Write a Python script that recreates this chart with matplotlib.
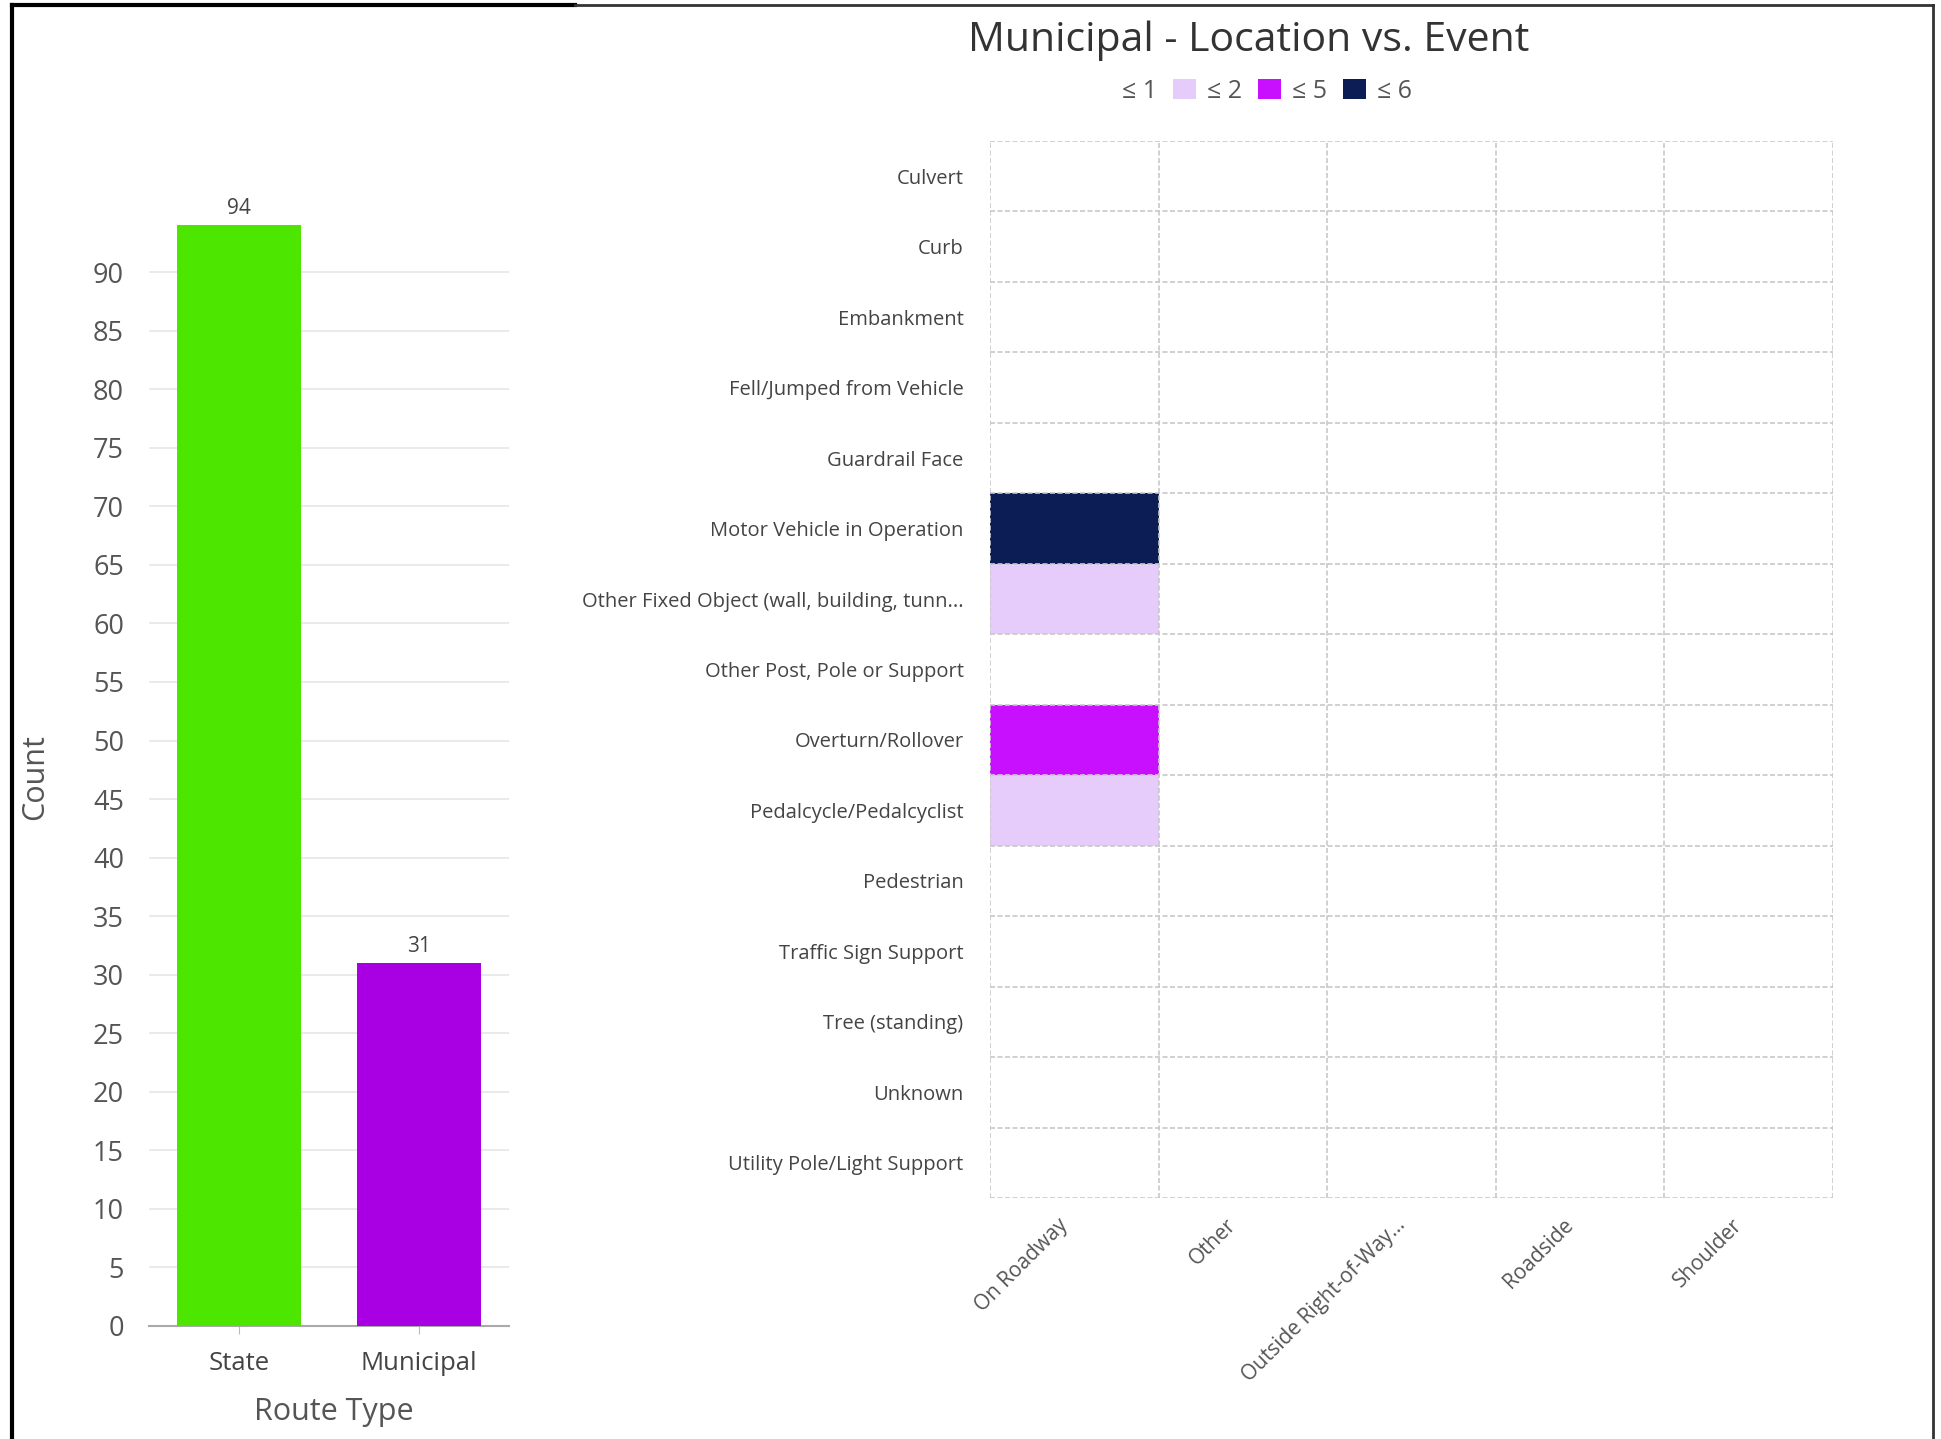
import matplotlib
matplotlib.use("Agg")
import matplotlib.pyplot as plt
import numpy as np
from matplotlib.colors import ListedColormap, BoundaryNorm
from matplotlib.patches import Patch
from matplotlib.lines import Line2D
from matplotlib.transforms import ScaledTranslation

plt.rcParams['font.family'] = ['Open Sans', 'DejaVu Sans']

# ---- Data ----
route_types = ["State", "Municipal"]
route_counts = [94, 31]
route_colors = ["#4DE600", "#A800E3"]

events = ["Culvert", "Curb", "Embankment", "Fell/Jumped from Vehicle", "Guardrail Face",
          "Motor Vehicle in Operation", "Other Fixed Object (wall, building, tunn...",
          "Other Post, Pole or Support", "Overturn/Rollover", "Pedalcycle/Pedalcyclist",
          "Pedestrian", "Traffic Sign Support", "Tree (standing)", "Unknown",
          "Utility Pole/Light Support"]
locations = ["On Roadway", "Other", "Outside Right-of-Way...", "Roadside", "Shoulder"]
# values per event (rows) x location (cols)
on_roadway = [0, 0, 0, 0, 0, 6, 2, 0, 5, 2, 0, 0, 0, 0, 0]
other = [0] * 15
outside_row = [0] * 15
roadside = [0] * 15
shoulder = [0] * 15
legend_labels = ["≤ 1", "≤ 2", "≤ 5", "≤ 6"]
bin_edges = [-0.5, 1.5, 2.5, 5.5, 6.5]
bin_colors = ["#FFFFFF", "#E6CCFA", "#C810FF", "#0C1C55"]

W, H = 1941, 1439
fig = plt.figure(figsize=(W / 100, H / 100), dpi=100)

# ---- Bar chart ----
ax1 = fig.add_axes([149 / W, 1 - 1326 / H, 360 / W, 1171 / H])
x = np.arange(len(route_types))
ax1.bar(x, route_counts, width=0.69, color=route_colors, zorder=3)
for xi, v in zip(x, route_counts):
    ax1.text(xi, v + 0.5, str(v), ha='center', va='bottom', fontsize=15, color='#444444')
ax1.set_xlim(-0.5, 1.5)
ax1.set_ylim(0, 100)
ax1.set_yticks(np.arange(0, 95, 5))
ax1.set_xticks(x)
ax1.set_xticklabels(route_types, fontsize=18.5, color='#444444')
ax1.tick_params(axis='y', length=0, pad=18, labelsize=19.5, labelcolor='#555555')
ax1.tick_params(axis='x', length=6, color='#bbbbbb', pad=12)
ax1.grid(axis='y', color='#e8e8e8', linewidth=1.3, zorder=0)
for s in ['top', 'right', 'left']:
    ax1.spines[s].set_visible(False)
ax1.spines['bottom'].set_color('#aaaaaa')
ax1.spines['bottom'].set_linewidth(1.5)
ax1.set_xlabel("Route Type", fontsize=22, color='#555555', labelpad=15)
ax1.xaxis.label.set_x(0.514)
fig.text(35 / W, 1 - 777 / H, "Count", rotation=90, fontsize=22, color='#555555',
         ha='center', va='center')

# ---- Heatmap ----
ax2 = fig.add_axes([990 / W, 1 - 1198 / H, 843 / W, 1057 / H])
data = np.array([on_roadway, other, outside_row, roadside, shoulder]).T
cmap = ListedColormap(bin_colors)
norm = BoundaryNorm(bin_edges, cmap.N)
ax2.pcolormesh(np.arange(len(locations) + 1), np.arange(len(events) + 1), data,
               cmap=cmap, norm=norm)
ax2.set_xlim(0, len(locations))
ax2.set_ylim(len(events), 0)
for i in range(len(events) + 1):
    ax2.axhline(i, color='#c8c8c8', linewidth=1.2, linestyle=(0, (3, 1.5)), zorder=2)
for j in range(len(locations) + 1):
    ax2.axvline(j, color='#c8c8c8', linewidth=1.2, linestyle=(0, (3, 1.5)), zorder=2)
for s in ax2.spines.values():
    s.set_visible(False)
ax2.set_yticks(np.arange(len(events)) + 0.5)
ax2.set_yticklabels(events, fontsize=14.5, color='#444444')
ax2.set_xticks(np.arange(len(locations)) + 0.5)
ax2.set_xticklabels(locations, fontsize=15, color='#555555', rotation=45,
                    ha='right', rotation_mode='anchor')
ax2.tick_params(axis='y', length=0, pad=19)
ax2.tick_params(axis='x', length=0, pad=15)
shift = ScaledTranslation(-17 / 100, 4 / 100, fig.dpi_scale_trans)
for lab in ax2.get_xticklabels():
    lab.set_transform(lab.get_transform() + shift)

fig.text(1249 / W, 1 - 41 / H, "Municipal - Location vs. Event", fontsize=29.5,
         color='#333333', ha='center', va='center')
handles = [Patch(facecolor=c, edgecolor='none') for c in bin_colors]
fig.legend(handles, legend_labels, loc='center', bbox_to_anchor=(1250 / W, 1 - 91 / H),
           ncol=4, frameon=False, fontsize=18, handlelength=0.9, handleheight=0.9,
           handletextpad=0.45, columnspacing=0.65, labelcolor='#555555')

# ---- outer frame ----
fig.add_artist(Line2D([12 / W, 12 / W], [0, 1 - 5 / H], transform=fig.transFigure,
                      color='black', linewidth=3))
fig.add_artist(Line2D([12 / W, 575 / W], [1 - 5 / H, 1 - 5 / H], transform=fig.transFigure,
                      color='black', linewidth=3))
fig.add_artist(Line2D([575 / W, 1933 / W], [1 - 5 / H, 1 - 5 / H], transform=fig.transFigure,
                      color='#333333', linewidth=2))
fig.add_artist(Line2D([1933 / W, 1933 / W], [0, 1 - 5 / H], transform=fig.transFigure,
                      color='#333333', linewidth=2))

fig.savefig("out.png", dpi=100)
